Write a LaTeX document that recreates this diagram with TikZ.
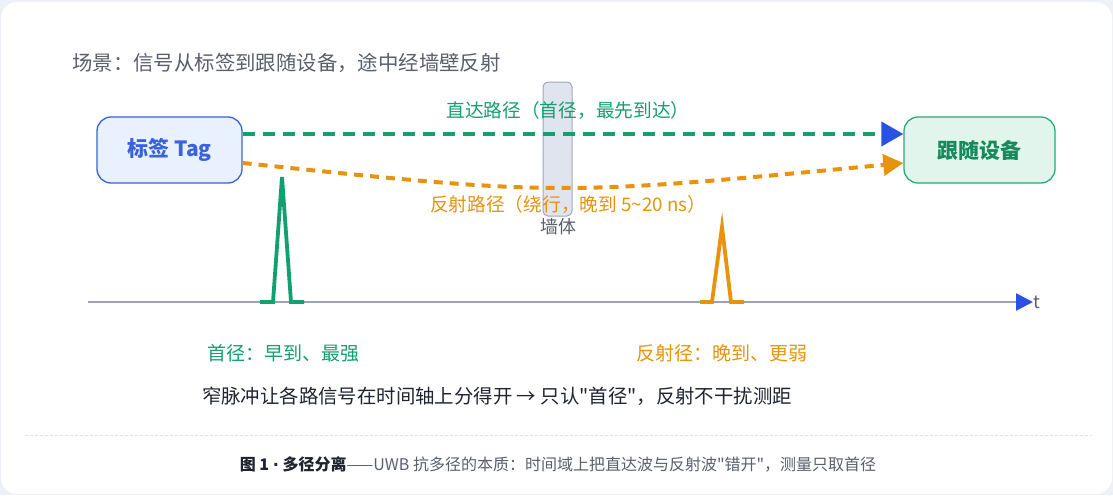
\documentclass[tikz,border=0pt]{standalone}
\usepackage{fontspec}
\setmainfont{Noto Sans CJK SC}[Ligatures=TeXOff]
\newfontfamily\latinfont{DejaVu Sans}
\usetikzlibrary{arrows.meta, positioning, calc}

\definecolor{pathgreen}{HTML}{12A06F}
\definecolor{pathorange}{HTML}{E8930C}
\definecolor{tipblue}{HTML}{2952E3}
\definecolor{tagblue}{HTML}{3A62DC}
\definecolor{tagfill}{HTML}{E9F0FE}
\definecolor{devfill}{HTML}{E1F5EC}
\definecolor{devborder}{HTML}{2AA87A}
\definecolor{devtext}{HTML}{168A5C}
\definecolor{wallfill}{HTML}{E0E4EE}
\definecolor{wallborder}{HTML}{A0A8BB}
\definecolor{axisgray}{HTML}{9CA3B8}
\definecolor{textgray}{HTML}{5A5F6B}
\definecolor{textdark}{HTML}{1F2430}
\definecolor{pagebg}{HTML}{EEF0F7}

\tikzset{
  endbox/.style={draw, line width=1.3pt, rounded corners=14pt, inner sep=0pt,
    minimum height=66pt, font=\fontsize{21}{24}\selectfont\bfseries},
  pulse/.style={line width=3.8pt, line join=miter},
  note/.style={inner sep=0pt, font=\fontsize{19}{22}\selectfont}
}

\begin{document}
\begin{tikzpicture}[x=1pt, y=-1pt]
  % card
  \fill[pagebg] (0,0) rectangle (1113,495);
  \fill[white, rounded corners=16pt] (1,2) rectangle (1112,494);
  \useasboundingbox (0,0) rectangle (1113,495);

  \node[inner sep=0pt, anchor=west, text=textgray, font=\fontsize{20.4}{24}\selectfont] (scene) at (72,63) {场景：信号从标签到跟随设备，途中经墙壁反射};

  % wall
  \node[draw=wallborder, fill=wallfill, line width=1pt, rounded corners=5pt,
    minimum width=29pt, minimum height=134pt, inner sep=0pt] (wall) at (557.5,149) {};
  \node[inner sep=0pt, text=textgray, font=\fontsize{18}{21}\selectfont] (walllbl) at (558,227) {墙体};

  % end points
  \node[endbox, draw=tagblue, fill=tagfill, text=tagblue, minimum width=145pt] (tag) at (169.5,150) {标签 Tag};
  \node[endbox, draw=devborder, fill=devfill, text=devtext, minimum width=151pt] (dev) at (979.5,150) {跟随设备};

  % paths
  \draw[pathgreen, line width=4pt, dash pattern=on 12pt off 8pt,
    -{Triangle[color=tipblue, length=22pt, width=24pt]}]
    ([yshift=16pt]tag.east) -- ([yshift=16pt]dev.west);
  \draw[pathorange, line width=4pt, dash pattern=on 9pt off 7pt,
    -{Triangle[length=20pt, width=21pt]}]
    ([yshift=-13pt]tag.east) .. controls (558,196) .. ([yshift=-13pt]dev.west);
  \node[note, font=\fontsize{18.7}{22}\selectfont, text=pathgreen] (directlbl) at (568,110) {直达路径（首径，最先到达）};
  \node[note, font=\fontsize{18.7}{22}\selectfont, text=pathorange] (refllbl) at (568,204) {反射路径（绕行，晚到 5\textasciitilde20 ns）};

  % time axis
  \coordinate (t0) at (88,302);
  \coordinate (t1) at (1033,302);
  \draw[axisgray, line width=2.5pt, -{Triangle[color=tipblue, length=17pt, width=17pt]}] (t0) -- (t1);
  \node[anchor=west, inner sep=0pt, text=textgray, font=\fontsize{18}{20}\selectfont] (tlbl) at (1033,302) {t};

  % pulses
  \draw[pulse, pathgreen] (260,302) -- (273,302) -- (282,177) -- (291,302) -- (304,302);
  \draw[pulse, pathorange] (700,302) -- (712,302) -- (722,227) -- (731,302) -- (744,302);
  \node[note, text=pathgreen] (firstlbl) at (283,353) {首径：早到、最强};
  \node[note, text=pathorange] (echolbl) at (722,353) {反射径：晚到、更弱};

  \node[inner sep=0pt, text=textdark, font=\fontsize{19.4}{22}\selectfont] (summary) at (497,396)
    {窄脉冲让各路信号在时间轴上分得开 → 只认"首径"，反射不干扰测距};

  % caption
  \draw[wallfill, line width=0.8pt, dash pattern=on 3pt off 2pt] (25,435) -- (1092,435);
  \node[inner sep=0pt, font=\fontsize{16}{18}\selectfont] (caption) at (558,464)
    {\textcolor{textdark}{\bfseries 图 1 {\latinfont ·} 多径分离}\textcolor{textgray}{——UWB 抗多径的本质：时间域上把直达波与反射波"错开"，测量只取首径}};
\end{tikzpicture}
\end{document}
